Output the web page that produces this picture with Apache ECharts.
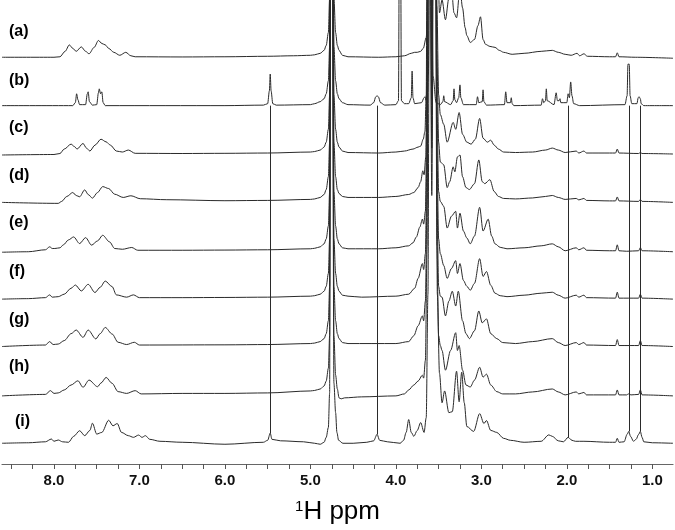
<!DOCTYPE html>
<html>
<head>
<meta charset="utf-8">
<script src="https://cdn.jsdelivr.net/npm/echarts@6/dist/echarts.min.js"></script>
<style>
html,body{margin:0;padding:0;background:#fff;}
#chart{width:675px;height:530px;}
</style>
</head>
<body>
<div id="chart"></div>
<script>
// ---------------- DATA (ppm, intensity above the trace's own baseline) ----------------
const traceLabels = ['(a)','(b)','(c)','(d)','(e)','(f)','(g)','(h)','(i)'];

const specA = [[8.608,0],[8.0,0],[7.93,0.5],[7.87,6],[7.82,12.5],[7.78,9],[7.74,6],[7.68,10.5],[7.63,6],[7.59,3.5],[7.53,10],[7.48,17],[7.44,14],[7.40,12.5],[7.36,9],[7.30,5],[7.23,2],[7.16,5],[7.10,1.5],[7.05,0.5],[6.5,0.3],[6.0,0.5],[5.5,1],[5.2,1.5],[5.0,2],
 [4.95,2.5],[4.885,4],[4.84,7],[4.815,12],[4.79,25],[4.775,60],[4.765,600],[4.745,600],[4.725,60],[4.705,25],[4.685,12],[4.665,7],[4.625,2],[4.56,0.5],
 [4.2,0],[4.0,0.5],[3.9,1.5],[3.82,4],[3.78,5],[3.75,5],[3.71,6],[3.68,9],[3.645,20],[3.625,60],[3.61,600],[3.58,600],[3.55,600],[3.51,100],[3.49,45],[3.46,58],[3.42,38],[3.38,60],[3.35,70],[3.32,45],[3.29,40],[3.25,70],[3.22,50],[3.19,30],[3.17,22],[3.13,15],[3.08,18],[3.04,32],[3.01,41],[2.98,18],[2.95,13],[2.90,11],[2.84,10],[2.79,7],[2.74,5],[2.64,3],[2.5,4],[2.3,6],[2.17,7],[2.10,5],[2.02,3],[1.95,2],[1.88,4],[1.85,1.5],[1.80,3.5],[1.76,1],[1.5,0.5],[1.43,0.5],[1.41,4.5],[1.39,0.5],[1.2,0],[0.758,-1]];

const specB = [[8.608,0],[7.78,0],[7.75,3],[7.735,12],[7.72,6],[7.70,1],[7.63,1],[7.61,12],[7.60,14],[7.585,4],[7.55,0.5],[7.50,1],[7.48,13],[7.47,17],[7.455,12],[7.44,14],[7.425,3],[7.40,0],[6.0,0],[5.55,0.5],[5.50,2],[5.48,15],[5.47,32],[5.46,15],[5.44,2],[5.40,0.5],[5.0,1],
 [4.95,2],[4.885,4],[4.84,7],[4.815,12],[4.79,25],[4.775,60],[4.765,600],[4.745,600],[4.725,60],[4.705,25],[4.685,12],[4.665,7],[4.625,3],[4.56,1],
 [4.30,0.5],[4.26,3],[4.235,9],[4.22,10],[4.205,9],[4.18,3],[4.13,0.5],[4.0,1],[3.97,5],[3.958,200],[3.946,200],[3.935,5],[3.90,2],[3.85,2],[3.82,8],[3.81,35],[3.80,8],[3.78,2],[3.70,3],[3.67,8],[3.66,9],[3.645,5],[3.63,13],[3.62,30],[3.605,200],[3.585,200],[3.565,30],[3.53,3],[3.48,1],[3.45,4],[3.44,10],[3.43,4],[3.36,1],[3.33,5],[3.32,17],[3.31,6],[3.29,3],[3.265,8],[3.25,21],[3.24,8],[3.21,1],[3.06,1],[3.045,9],[3.03,3],[2.99,4],[2.98,16],[2.97,4],[2.94,0.5],[2.73,1],[2.715,14],[2.70,3],[2.66,3],[2.65,8],[2.64,2],[2.62,0],[2.30,0.5],[2.285,7],[2.27,3],[2.25,5],[2.24,17],[2.23,5],[2.15,1],[2.125,13],[2.11,5],[2.09,5],[2.08,7],[2.07,3],[2.00,3],[1.985,12],[1.97,8],[1.955,24],[1.94,10],[1.92,2],[1.85,0],[1.32,1],[1.295,10],[1.285,42],[1.27,42],[1.26,10],[1.24,2],[1.18,2],[1.165,8],[1.155,9],[1.14,7],[1.13,2],[1.10,0],[0.758,0]];

const specC = [[8.608,-1],[8.0,-0.5],[7.93,0.5],[7.88,5],[7.80,10],[7.76,7.5],[7.73,5],[7.66,10.7],[7.62,6],[7.58,3],[7.52,9],[7.45,15],[7.39,12.3],[7.34,9],[7.27,3],[7.20,2],[7.13,4],[7.05,0.7],[6.5,0.5],[6.0,0.7],[5.5,1],[5.0,2],
 [4.95,2.5],[4.885,4],[4.84,7],[4.815,12],[4.79,25],[4.775,60],[4.765,600],[4.745,600],[4.725,60],[4.705,25],[4.685,12],[4.665,7],[4.625,3],[4.56,1.5],
 [4.2,1],[4.0,2],[3.90,3],[3.80,5],[3.74,7],[3.71,8],[3.68,15],[3.66,23],[3.645,60],[3.625,600],[3.60,600],[3.58,250],[3.56,600],[3.54,600],[3.52,150],[3.50,60],[3.48,40],[3.44,30],[3.40,12],[3.33,32],[3.30,25],[3.26,42],[3.22,20],[3.17,12],[3.12,10],[3.07,15],[3.02,36],[2.98,16],[2.93,12],[2.89,14],[2.85,9],[2.80,5],[2.74,2],[2.6,1.5],[2.4,2],[2.25,4],[2.17,6],[2.10,4],[2.02,1.5],[1.89,3],[1.86,1],[1.80,3],[1.77,1],[1.5,1],[1.43,1],[1.41,5],[1.39,1],[1.16,0.5],[1.14,1.5],[1.12,0.5],[0.758,0]];

const specD = [[8.608,-1],[7.95,-2],[7.91,0],[7.85,5],[7.78,9],[7.74,6],[7.70,4.7],[7.64,11.7],[7.60,7],[7.55,3.3],[7.49,9],[7.43,15],[7.36,13],[7.29,7.3],[7.19,4],[7.10,5.7],[6.99,2.7],[6.68,1.7],[6.0,0.7],[5.5,1],[5.0,2],
 [4.95,2.5],[4.885,4],[4.84,7],[4.815,12],[4.79,25],[4.775,60],[4.765,600],[4.745,600],[4.725,60],[4.705,25],[4.685,12],[4.665,8],[4.625,5],[4.56,4],
 [4.2,4],[4.0,5],[3.85,7],[3.79,9],[3.74,14],[3.71,20],[3.685,31],[3.67,27],[3.65,45],[3.635,150],[3.62,600],[3.60,600],[3.58,250],[3.56,600],[3.54,600],[3.52,150],[3.50,60],[3.48,40],[3.44,37],[3.40,14],[3.37,20],[3.33,35],[3.31,30],[3.28,45],[3.25,47],[3.22,25],[3.18,14],[3.14,12],[3.08,18],[3.03,42],[2.99,20],[2.96,18],[2.90,22],[2.85,10],[2.80,5],[2.74,3],[2.6,2.5],[2.4,3.5],[2.25,5],[2.17,6],[2.10,4],[2.02,2],[1.89,3],[1.86,1.5],[1.80,3],[1.77,1],[1.5,0.5],[1.43,0.5],[1.41,4.5],[1.39,0.5],[1.16,0],[1.14,2],[1.12,0],[0.758,-1]];

const specE = [[8.608,-1.5],[8.3,-1],[8.10,1],[8.05,4],[8.02,2.3],[7.99,2.3],[7.93,3],[7.89,6],[7.83,11],[7.77,14],[7.70,7.3],[7.63,13.3],[7.56,5.7],[7.49,10],[7.43,15.7],[7.35,9],[7.29,2.3],[7.20,1.5],[7.09,3.3],[7.02,0.5],[6.5,0.5],[6.0,0.7],[5.5,1],[5.0,2],
 [4.95,2.5],[4.885,4],[4.84,7],[4.815,12],[4.79,25],[4.775,60],[4.765,600],[4.745,600],[4.725,60],[4.705,25],[4.685,12],[4.665,7],[4.625,3],[4.56,2],
 [4.2,2],[4.0,3],[3.85,5],[3.80,8],[3.76,14],[3.72,24],[3.69,32],[3.675,27],[3.655,40],[3.635,150],[3.62,600],[3.60,600],[3.58,250],[3.56,600],[3.54,600],[3.52,150],[3.50,60],[3.48,50],[3.44,45],[3.40,23],[3.35,35],[3.30,40],[3.28,23],[3.25,38],[3.21,20],[3.17,13],[3.13,7],[3.08,15],[3.02,44],[2.98,20],[2.92,32],[2.88,15],[2.84,7],[2.78,3.5],[2.7,2],[2.5,3],[2.3,5],[2.17,7],[2.10,4],[2.02,0],[1.89,3],[1.86,1],[1.80,3],[1.77,0.5],[1.5,0],[1.43,0],[1.41,6],[1.39,0],[1.3,-0.5],[1.16,0],[1.14,3],[1.12,0],[0.758,-1]];

const specF = [[8.608,-1],[8.3,-0.5],[8.10,0.5],[8.05,3.3],[8.02,1],[7.95,1.5],[7.88,4],[7.80,10],[7.75,13.3],[7.68,7.3],[7.60,14],[7.52,5.7],[7.46,11],[7.40,17.3],[7.32,11.7],[7.27,3.3],[7.15,1],[7.07,3.3],[7.00,0.5],[6.5,0.5],[6.0,0.7],[5.5,1],[5.0,2],
 [4.95,2.5],[4.885,4],[4.84,7],[4.815,12],[4.79,25],[4.775,60],[4.765,600],[4.745,600],[4.725,60],[4.705,25],[4.685,12],[4.665,7],[4.625,3],[4.56,2],
 [4.4,1],[4.0,2],[3.85,4],[3.78,10],[3.74,20],[3.69,35],[3.675,29],[3.655,45],[3.635,150],[3.62,600],[3.60,600],[3.58,250],[3.56,600],[3.54,600],[3.52,150],[3.50,60],[3.48,45],[3.44,33],[3.40,20],[3.35,30],[3.30,38],[3.28,25],[3.25,35],[3.21,18],[3.17,12],[3.13,8],[3.08,15],[3.02,40],[2.98,22],[2.94,27],[2.89,13],[2.84,5],[2.78,2.5],[2.7,1.5],[2.5,3],[2.3,5],[2.17,6],[2.10,3],[2.02,0],[1.89,3],[1.86,1],[1.80,3],[1.77,0.5],[1.43,0],[1.41,6],[1.39,0],[1.16,0],[1.14,4],[1.12,0],[0.758,-1]];

const specG = [[8.608,-1],[8.10,0.5],[8.05,4],[8.01,1],[7.95,1.5],[7.88,5],[7.80,12],[7.74,15.7],[7.66,8.3],[7.60,15.7],[7.51,6.7],[7.46,12],[7.40,18.3],[7.32,11.7],[7.25,3.3],[7.15,1],[7.06,3.3],[7.00,0.5],[6.0,0.7],[5.5,1],[5.0,2],
 [4.95,2.5],[4.885,4],[4.84,7],[4.815,12],[4.79,25],[4.775,60],[4.765,600],[4.745,600],[4.725,60],[4.705,25],[4.685,12],[4.665,7],[4.625,3],[4.56,2],
 [4.0,2],[3.85,4],[3.79,10],[3.74,20],[3.69,30],[3.675,25],[3.655,45],[3.635,150],[3.62,600],[3.60,600],[3.58,250],[3.56,600],[3.54,600],[3.52,150],[3.50,60],[3.48,50],[3.46,49],[3.42,30],[3.38,45],[3.34,55],[3.30,40],[3.27,55],[3.22,25],[3.18,12],[3.14,7],[3.08,15],[3.03,35],[2.99,23],[2.94,27],[2.89,12],[2.82,7],[2.75,3],[2.6,2],[2.4,4],[2.17,7],[2.10,3],[2.02,0],[1.89,3],[1.86,1],[1.80,3],[1.77,0.5],[1.43,0],[1.41,6],[1.39,0],[1.25,0],[1.16,0],[1.14,5],[1.12,0],[0.758,-1]];

const specH = [[8.608,-1],[8.10,0.5],[8.04,4.3],[8.00,1.5],[7.95,2],[7.88,5],[7.80,10],[7.72,14.3],[7.66,7.7],[7.59,15],[7.49,8.3],[7.45,12],[7.39,17.7],[7.32,11.7],[7.25,3.3],[7.15,1.5],[7.05,4.3],[6.98,1],[6.5,1.5],[6.0,1.5],[5.5,2],[5.0,4],
 [4.95,4.5],[4.885,6],[4.84,9],[4.815,14],[4.79,27],[4.775,60],[4.765,600],[4.745,600],[4.725,60],[4.705,20],[4.685,6],[4.665,-3],[4.64,-4],[4.60,-3],
 [4.4,-2],[4.0,-1],[3.90,1],[3.85,5],[3.79,10],[3.74,14],[3.69,20],[3.675,17],[3.655,35],[3.635,150],[3.62,600],[3.60,600],[3.58,250],[3.56,600],[3.54,600],[3.52,150],[3.50,60],[3.48,50],[3.46,45],[3.42,25],[3.36,45],[3.30,63],[3.28,45],[3.26,50],[3.22,25],[3.18,10],[3.13,8],[3.08,15],[3.02,28],[2.98,18],[2.94,21],[2.89,10],[2.82,3.3],[2.75,1],[2.6,1],[2.4,3],[2.17,6],[2.10,3],[2.02,0],[1.89,3],[1.86,1],[1.80,2.5],[1.77,0],[1.43,0],[1.41,5],[1.39,0],[1.30,0],[1.28,1],[1.25,0],[1.16,0.5],[1.14,5],[1.12,0],[0.758,-1]];

const specI = [[8.608,-1],[8.3,-0.5],[8.10,0.5],[8.03,3.3],[8.00,1],[7.95,2.3],[7.90,0.5],[7.83,0],[7.77,6],[7.70,11.7],[7.64,6.7],[7.58,12],[7.55,19.3],[7.50,8.3],[7.44,10],[7.36,22.3],[7.31,16.7],[7.26,19],[7.21,10],[7.13,6.7],[7.07,5],[7.01,7.3],[6.97,5],[6.93,6.7],[6.88,3],[6.76,1],[6.5,0],[6.0,-2],[5.55,0],[5.50,2],[5.47,9.3],[5.45,3],[5.35,1.5],[5.08,0.5],
 [4.95,-1],[4.885,-2],[4.84,0],[4.815,5],[4.79,15],[4.775,50],[4.765,600],[4.745,600],[4.725,60],[4.705,30],[4.69,10],[4.67,2],[4.62,-1],
 [4.50,-1],[4.34,0],[4.26,1.5],[4.22,8],[4.19,2],[4.10,0.5],[3.95,-1],[3.91,2],[3.88,10],[3.85,23],[3.82,10],[3.79,6],[3.75,12],[3.71,20],[3.67,10],[3.645,25],[3.625,150],[3.605,600],[3.58,250],[3.555,600],[3.535,600],[3.515,150],[3.49,70],[3.46,40],[3.43,52],[3.38,30],[3.34,31],[3.29,72],[3.26,41],[3.23,71],[3.20,40],[3.17,16],[3.09,11],[3.02,29],[2.97,19],[2.94,22],[2.89,12],[2.82,10],[2.74,4],[2.66,2],[2.5,0],[2.3,1],[2.21,7.5],[2.17,6],[2.10,1.5],[2.04,0.5],[1.985,5],[1.94,2],[1.90,1],[1.80,1],[1.5,0],[1.43,0],[1.41,4],[1.39,0],[1.33,0.5],[1.295,8],[1.275,11],[1.255,6],[1.22,1],[1.19,3],[1.16,8],[1.14,11],[1.12,5],[1.10,0.5],[1.0,-0.5],[0.758,-1]];

const spectra = [specA, specB, specC, specD, specE, specF, specG, specH, specI];

// guide lines linking peaks of trace (b) down to trace (i)
const guidePpm = [5.47, 4.22, 1.985, 1.275, 1.14];

// axis ticks / labels
const xTickLabels = [1, 2, 3, 4, 5, 6, 7, 8];
const xTickMarks = [1.0,1.25,1.5,1.75,2.0,2.25,2.5,2.75,3.0,3.25,3.5,3.75,4.0,4.25,4.5,4.75,5.0,5.25,5.5,5.75,6.0,6.25,6.5,6.75,7.0,7.25,7.5,7.75,8.0,8.25,8.5];

// ---------------- LAYOUT / STYLE ----------------
const baselines = [412, 363, 314, 266, 216, 168, 120, 70, 22]; // vertical stacking offsets
const labelPos = [[9,32],[9,81],[9,128],[9,176],[9,223],[9,272],[9,320],[9,367],[15,422]];
const lineColor = '#2a2a2a';

const chart = echarts.init(document.getElementById('chart'), null, {renderer: 'canvas'});

const series = spectra.map((sp, k) => ({
  type: 'line',
  name: traceLabels[k],
  data: sp.map(p => [p[0], p[1] + baselines[k]]),
  showSymbol: false,
  symbol: 'none',
  smooth: 0.3,
  smoothMonotone: 'x',
  clip: true,
  lineStyle: {color: lineColor, width: 1},
  silent: true,
  z: 2
}));

function valueAt(sp, ppm) {
  const hit = sp.find(p => Math.abs(p[0] - ppm) < 1e-9);
  return hit ? hit[1] : 0;
}
series.push({
  type: 'line',
  data: [],
  markLine: {
    silent: true,
    symbol: ['none', 'none'],
    label: {show: false},
    lineStyle: {color: lineColor, width: 1, type: 'solid'},
    data: guidePpm.map(p => [
      {coord: [p, baselines[1]]},
      {coord: [p, baselines[8] + valueAt(specI, p)]}
    ])
  }
});

const option = {
  animation: false,
  backgroundColor: '#fff',
  grid: {left: 2, right: 2, top: 0, bottom: 60, containLabel: false},
  xAxis: {
    type: 'value',
    inverse: true,
    min: 0.758,
    max: 8.608,
    splitLine: {show: false},
    axisLine: {show: true, onZero: false, lineStyle: {color: '#666', width: 1.2}},
    axisTick: {show: true, inside: false, length: 5, customValues: xTickMarks, lineStyle: {color: '#555', width: 1}},
    axisLabel: {
      show: true, customValues: xTickLabels, margin: 9,
      formatter: v => v.toFixed(1),
      fontFamily: 'Liberation Sans, Arial, sans-serif', fontWeight: 'bold', fontSize: 15, color: '#111'
    },
    name: '{sup|1}{main|H ppm}',
    nameLocation: 'middle',
    nameGap: 35,
    nameTextStyle: {
      rich: {
        sup: {fontFamily: 'Liberation Sans, Arial, sans-serif', fontSize: 15, color: '#000', verticalAlign: 'top', padding: [0,0,10,0]},
        main: {fontFamily: 'Liberation Sans, Arial, sans-serif', fontSize: 26, color: '#000'}
      }
    }
  },
  yAxis: {type: 'value', min: 0, max: 470, show: false},
  graphic: traceLabels.map((t, k) => ({
    type: 'text',
    x: labelPos[k][0], y: labelPos[k][1],
    style: {text: t, fill: '#000', font: 'bold 16px "Liberation Sans", Arial, sans-serif', verticalAlign: 'middle', align: 'left'},
    z: 10
  })),
  series: series
};
chart.setOption(option);
</script>
</body>
</html>
